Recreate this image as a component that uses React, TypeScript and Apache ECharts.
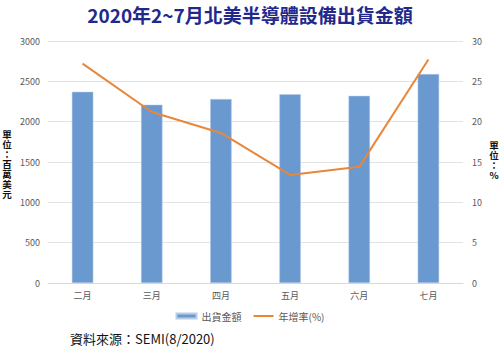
import React, { useEffect, useRef } from "react";
import * as echarts from "echarts";

const categories = ["二月", "三月", "四月", "五月", "六月", "七月"];
const shipments = [2370, 2210, 2280, 2340, 2320, 2590];
const growth = [27.2, 21.2, 18.6, 13.4, 14.4, 27.7];
const titleText = "2020年2~7月北美半導體設備出貨金額";
const leftUnit = "單位：百萬美元";
const rightUnit = "單位：%";
const sourceText = "資料來源：SEMI(8/2020)";

const FONT = "'Noto Sans CJK TC', 'Noto Sans', sans-serif";

function verticalText(text: string, cx: number, top: number, step: number) {
  return text.split("").map((ch, i) => ({
    type: "text",
    x: cx,
    y: top + i * step,
    style: {
      text: ch,
      fill: "#111",
      fontSize: 9.5,
      fontWeight: "bold",
      fontFamily: FONT,
      align: "center",
      verticalAlign: "top",
    },
  }));
}

export default function App() {
  const ref = useRef<HTMLDivElement>(null);
  useEffect(() => {
    document.body.style.margin = "0";
    if (!ref.current) return;
    const chart = echarts.init(ref.current, undefined, { renderer: "svg" });
    chart.setOption({
      animation: false,
      backgroundColor: "#ffffff",
      title: {
        text: titleText,
        left: "center",
        top: 0,
        textStyle: { color: "#23288c", fontSize: 19, fontWeight: "bold", fontFamily: FONT },
      },
      grid: { left: 48, right: 37, top: 41, bottom: 67, containLabel: false },
      legend: {
        bottom: 24,
        left: "center",
        itemWidth: 20,
        itemHeight: 5,
        itemGap: 12,
        textStyle: { color: "#595959", fontSize: 10, fontFamily: FONT },
        data: [
          { name: "出貨金額", icon: "rect" },
          { name: "年增率(%)", icon: "path://M0,0H20V2H0Z" },
        ],
      },
      xAxis: {
        type: "category",
        data: categories,
        axisLine: { lineStyle: { color: "#d9d9d9" } },
        axisTick: { show: false },
        axisLabel: { color: "#595959", fontSize: 9, margin: 8, fontFamily: FONT },
      },
      yAxis: [
        {
          type: "value",
          min: 0,
          max: 3000,
          interval: 500,
          axisLine: { show: false },
          axisTick: { show: false },
          axisLabel: { color: "#595959", fontSize: 9, margin: 8, fontFamily: FONT, formatter: (v: number) => String(v) },
          splitLine: { lineStyle: { color: "#e3e3e3" } },
        },
        {
          type: "value",
          min: 0,
          max: 30,
          interval: 5,
          axisLine: { show: false },
          axisTick: { show: false },
          axisLabel: { color: "#595959", fontSize: 9, margin: 9, fontFamily: FONT, formatter: (v: number) => String(v) },
          splitLine: { show: false },
        },
      ],
      series: [
        {
          name: "出貨金額",
          type: "bar",
          data: shipments,
          barWidth: "31%",
          itemStyle: { color: "#6a99d0", borderColor: "#b7cde8", borderWidth: 0.5 },
        },
        {
          name: "年增率(%)",
          type: "line",
          yAxisIndex: 1,
          data: growth,
          symbol: "none",
          lineStyle: { color: "#e8873a", width: 2 },
          itemStyle: { color: "#e8873a" },
        },
      ],
      graphic: [
        ...verticalText(leftUnit, 7, 129, 10),
        ...verticalText(rightUnit, 494, 140, 10),
        {
          type: "text",
          left: 70,
          top: 332,
          style: {
            text: sourceText,
            fill: "#111",
            fontSize: 13,
            fontFamily: FONT,
          },
        },
      ],
    });
    return () => chart.dispose();
  }, []);
  return <div ref={ref} style={{ width: 500, height: 350 }} />;
}
